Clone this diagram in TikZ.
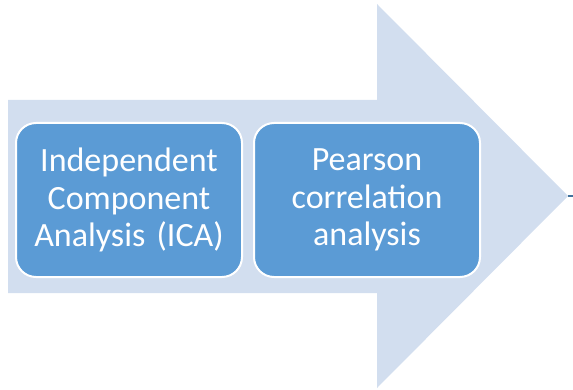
\documentclass[tikz,border=0pt]{standalone}
\usepackage{fontspec}
\setmainfont{Carlito}
\usetikzlibrary{positioning}
\definecolor{arrowfill}{HTML}{D2DEEF}
\definecolor{boxfill}{HTML}{5B9BD5}
\definecolor{tipline}{HTML}{41719C}

\begin{document}
\begin{tikzpicture}[x=1pt,y=-1pt,
    stage/.style={draw=white,line width=2pt,fill=boxfill,rounded corners=20pt,
      minimum width=226pt,minimum height=154pt,inner sep=0pt,
      text width=220pt,align=center,text=white,
      font=\fontsize{34}{37.5}\selectfont}]
      \useasboundingbox (0,0) rectangle (573,390);
      % big process arrow
      \fill[arrowfill] (8,100) -- (377,100) -- (377,4) -- (568,196)
        -- (377,388) -- (377,293) -- (8,293) -- cycle;
      \coordinate (tip) at (568,196);
      \coordinate (edge) at (573,196);
      \draw[tipline,line width=2pt] (tip) -- (edge);

      \node[stage] at (129,200)(ica){Independent\\Component\\Analysis (ICA)};
      \node[stage,right=10pt of ica](pca){Pearson\\correlation\\analysis};
    \end{tikzpicture}
\end{document}
